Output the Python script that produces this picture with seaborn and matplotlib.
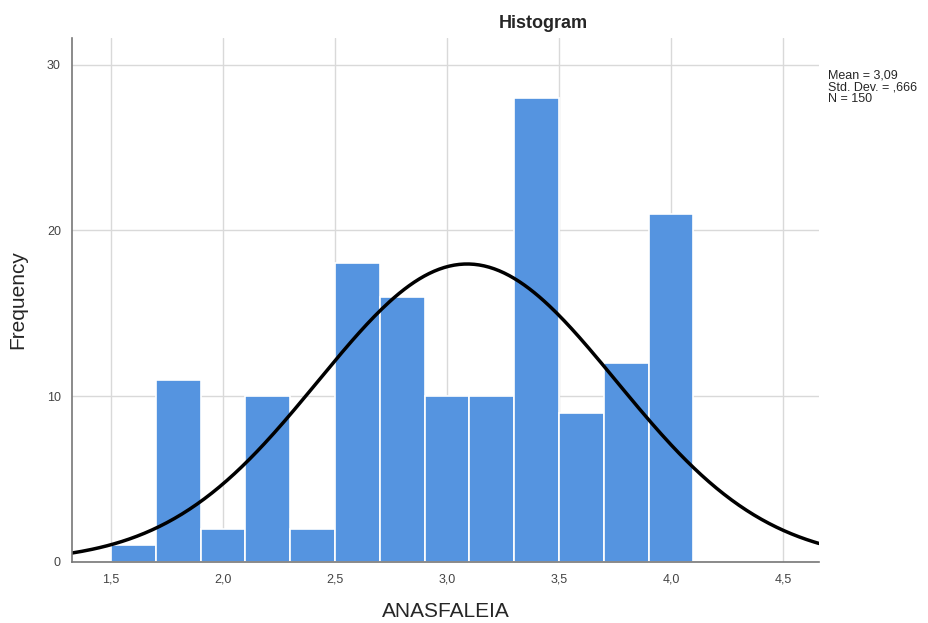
import numpy as np
import pandas as pd
import seaborn as sns
import matplotlib.pyplot as plt
from matplotlib.ticker import FuncFormatter

# Bin edges and counts
bin_edges = [1.5, 1.7, 1.9, 2.1, 2.3, 2.5, 2.7, 2.9, 3.1, 3.3, 3.5, 3.7, 3.9, 4.1]
counts = [1, 11, 2, 10, 2, 18, 16, 10, 10, 28, 9, 12, 21]

mean_val = 3.09
std_val = 0.666
n_obs = 150

x_ticks = [1.5, 2.0, 2.5, 3.0, 3.5, 4.0, 4.5]
y_ticks = [0, 10, 20, 30]

centers = [(a + b) / 2 for a, b in zip(bin_edges[:-1], bin_edges[1:])]
df = pd.DataFrame({"value": centers, "count": counts})

sns.set_style("white")
plt.rcParams["font.family"] = ["Liberation Sans", "DejaVu Sans"]

fig = plt.figure(figsize=(9.29, 6.23), dpi=100)
ax = fig.add_axes([0.0775, 0.098, 0.804, 0.841])

sns.histplot(data=df, x="value", weights="count", bins=bin_edges,
             color="#5594e0", alpha=1, edgecolor="white", linewidth=1.2, ax=ax)

# Normal curve scaled to counts
xlim = (1.326, 4.66)
xs = np.linspace(xlim[0], xlim[1], 300)
width = bin_edges[1] - bin_edges[0]
ys = n_obs * width / (std_val * np.sqrt(2 * np.pi)) * np.exp(-0.5 * ((xs - mean_val) / std_val) ** 2)
sns.lineplot(x=xs, y=ys, color="black", linewidth=2.5, ax=ax)

ax.set_xlim(*xlim)
ax.set_ylim(0, 31.6)
ax.set_xticks(x_ticks)
ax.set_yticks(y_ticks)
ax.xaxis.set_major_formatter(FuncFormatter(lambda v, p: f"{v:.1f}".replace(".", ",")))
ax.grid(True, color="#d9d9d9", linewidth=1)
ax.set_axisbelow(True)
ax.tick_params(length=0, labelsize=9, labelcolor="#444444", pad=8)

for s in ["top", "right"]:
    ax.spines[s].set_visible(False)
for s in ["left", "bottom"]:
    ax.spines[s].set_color("#777777")
    ax.spines[s].set_linewidth(1.2)

ax.set_xlabel("ANASFALEIA", fontsize=15, labelpad=12)
ax.set_ylabel("Frequency", fontsize=15, labelpad=14)

fig.text(0.585, 0.962, "Histogram", fontsize=13, fontweight="bold", ha="center", va="center")
fig.text(0.891, 0.86, f"Mean = 3,09\nStd. Dev. = ,666\nN = {n_obs}",
         fontsize=9, ha="left", va="center", linespacing=0.95)

fig.savefig("out.png", dpi=100)
